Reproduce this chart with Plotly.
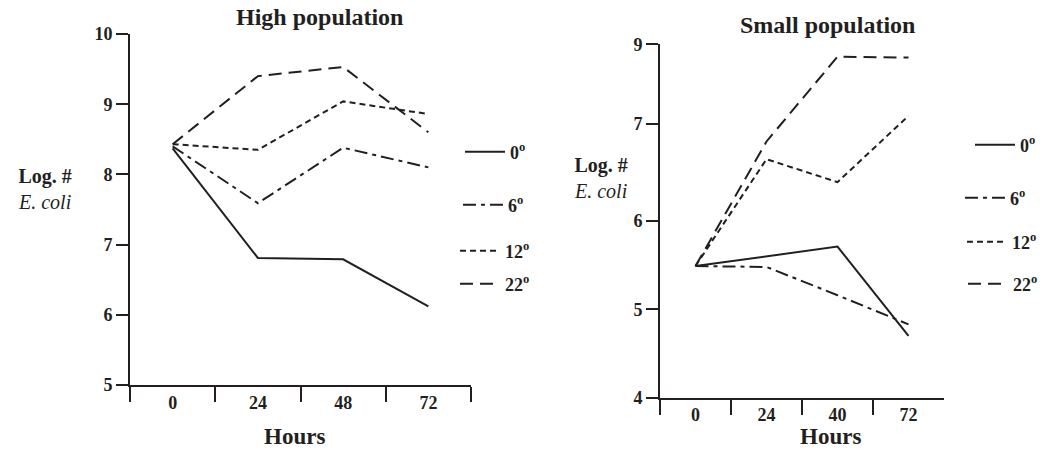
import plotly.graph_objects as go

# ---------------- data ----------------
hours_high = ["0", "24", "48", "72"]
hours_small = ["0", "24", "40", "72"]
series_names = ["0<sup>o</sup>", "6<sup>o</sup>", "12<sup>o</sup>", "22<sup>o</sup>"]

high_0 = [8.37, 6.81, 6.79, 6.12]
high_6 = [8.40, 7.59, 8.38, 8.10]
high_12 = [8.43, 8.35, 9.04, 8.86]
high_22 = [8.43, 9.40, 9.53, 8.60]

# small population values, in the (uneven) units of the printed axis
small_0 = [5.49, 5.60, 5.71, 4.70]
small_6 = [5.49, 5.48, 5.16, 4.83]
small_12 = [5.49, 6.70, 6.44, 7.19]
small_22 = [5.49, 6.90, 7.86, 7.85]

high_yticks = [5, 6, 7, 8, 9, 10]
high_yticklabels = ["5", "6", "7", "8", "9", "10"]
small_yticks = [4, 5, 6, 7.1, 8.0]
small_yticklabels = ["4", "5", "6", "7", "9"]

# ---------------- style / layout ----------------
INK = "#231f20"
FONT = "Liberation Serif"
dashes = ["solid", "13px,5px,4px,5px", "6px,4px", "13px,7px"]
W = 1044
H = 451

# legend item placement (text start x, item centre y) in pixels
leg_high_pos = [(510, 152), (508, 205), (505, 251), (505, 284)]
leg_small_pos = [(1020, 145), (1010, 198), (1012, 242), (1013, 284)]
TEXT_OFFSET = 50

fig = go.Figure()

high_series = [high_0, high_6, high_12, high_22]
small_series = [small_0, small_6, small_12, small_22]

legend_layouts = {}
legfont = dict(family=FONT, size=18, color=INK, weight="bold")

def legend_layout(tx, cy):
    return dict(x=(tx - TEXT_OFFSET) / W, y=1 - cy / H, xanchor="left", yanchor="middle",
                bgcolor="rgba(0,0,0,0)", borderwidth=0, itemwidth=40, font=legfont)

for i, (name, ys) in enumerate(zip(series_names, high_series)):
    key = "legend" if i == 0 else "legend%d" % (i + 1)
    fig.add_trace(go.Scatter(
        x=hours_high, y=ys, mode="lines", name=name,
        line=dict(color=INK, width=2, dash=dashes[i]),
        xaxis="x", yaxis="y", legend=key, showlegend=True, hoverinfo="skip"))
    legend_layouts[key] = legend_layout(*leg_high_pos[i])

for i, (name, ys) in enumerate(zip(series_names, small_series)):
    key = "legend%d" % (i + 5)
    fig.add_trace(go.Scatter(
        x=hours_small, y=ys, mode="lines", name=name,
        line=dict(color=INK, width=2, dash=dashes[i]),
        xaxis="x2", yaxis="y2", legend=key, showlegend=True, hoverinfo="skip"))
    legend_layouts[key] = legend_layout(*leg_small_pos[i])

tickfont = dict(family=FONT, size=18, color=INK, weight="bold")

xcommon = dict(type="category", range=[-0.5, 3.5], showgrid=False, zeroline=False,
               showline=True, linecolor=INK, linewidth=2,
               ticks="outside", tickson="boundaries", ticklen=15, tickwidth=2,
               tickcolor=INK, tickfont=tickfont, fixedrange=True)
ycommon = dict(showgrid=False, zeroline=False, showline=True, linecolor=INK,
               linewidth=2, ticks="outside", ticklen=12, tickwidth=2,
               tickcolor=INK, tickfont=tickfont, tickmode="array", fixedrange=True)

fig.update_layout(
    width=W, height=H,
    margin=dict(l=0, r=0, t=0, b=0, autoexpand=False),
    paper_bgcolor="white", plot_bgcolor="white",
    font=dict(family=FONT, color=INK),
    xaxis=dict(domain=[130 / W, 471 / W], anchor="y", **xcommon),
    yaxis=dict(domain=[1 - 385 / H, 1 - 34 / H], anchor="x", range=[5, 10],
               tickvals=high_yticks, ticktext=high_yticklabels, **ycommon),
    xaxis2=dict(domain=[660 / W, 944 / W], anchor="y2", **xcommon),
    yaxis2=dict(domain=[1 - 397.7 / H, 1 - 44.3 / H], anchor="x2", range=[4, 8],
                tickvals=small_yticks, ticktext=small_yticklabels, **ycommon),
    showlegend=True,
    **legend_layouts,
)

def label(text, x, y, size, bold=True, yanchor="middle"):
    fig.add_annotation(
        text=text, xref="paper", yref="paper", x=x / W, y=1 - y / H,
        xanchor="center", yanchor=yanchor, showarrow=False, align="center",
        font=dict(family=FONT, size=size, color=INK,
                  weight="bold" if bold else "normal"))

label("High population", 319, 17, 24)
label("Small population", 827, 25, 24)
label("Hours", 294, 451, 23, yanchor="bottom")
label("Hours", 830, 451, 23, yanchor="bottom")
label("<b>Log. #</b><br><i>E. coli</i>", 45, 189, 20, bold=False)
label("<b>Log. #</b><br><i>E. coli</i>", 601, 178, 20, bold=False)

fig.write_html("out.html", config={"displayModeBar": False},
               post_script="document.body.style.margin='0px';")
